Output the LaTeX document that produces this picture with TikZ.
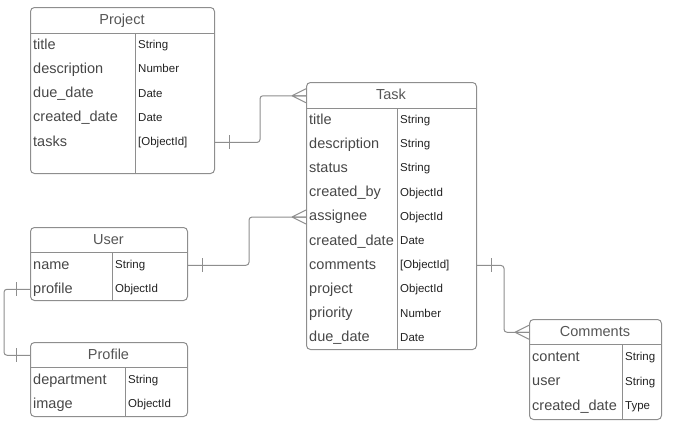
\documentclass[tikz,border=0pt]{standalone}
\usepackage{fontspec}
\setmainfont{Liberation Sans}
\usetikzlibrary{positioning}

\definecolor{erline}{HTML}{8E8E8E}
\definecolor{ertext}{HTML}{474747}
\definecolor{ertype}{HTML}{222222}
\definecolor{erhead}{HTML}{555555}

\tikzset{
  entity/.style={draw=erline, line width=1pt, rounded corners=4pt, anchor=north west, inner sep=0pt},
  headname/.style={anchor=base, inner sep=0pt, text=erhead, text height=10.5pt, text depth=3pt, font=\fontsize{14.5}{16}\selectfont},
  fieldname/.style={anchor=base west, inner sep=0pt, text=ertext, text height=10.5pt, text depth=3pt, font=\fontsize{14.5}{16}\selectfont},
  fieldtype/.style={anchor=base west, inner sep=0pt, text=ertype, font=\fontsize{11.5}{13}\selectfont},
  erlink/.style={draw=erline, line width=1pt, rounded corners=3pt},
  crow/.pic={\draw[erline, line width=1pt] (-14,0) -- (0,0) (-14,0) -- (0,-7) (-14,0) -- (0,7);},
  onebar/.pic={\draw[erline, line width=1pt] (0,-7) -- (0,7);},
}

\begin{document}
\begin{tikzpicture}[x=1pt, y=-1pt]
    \useasboundingbox (0,0) rectangle (673,431);

    % project
    \node[entity, minimum width=184, minimum height=166] (project) at (30,7) {};
    \draw[erline, line width=1pt] (30,33) -- (214,33) (135,33) -- (135,173);
    \node[headname] (project-head) at (122,24.5) {Project};
    \foreach \f/\t [count=\i] in {title/String, description/Number, due\_date/Date, created\_date/Date, tasks/{[ObjectId]}} {
        \node[fieldname] (p-f\i) at (33, 24.7+24.3*\i) {\f};
        \node[fieldtype] (p-t\i) at (138, 24.2+24.3*\i) {\t};
    }

    % task
    \node[entity, minimum width=170, minimum height=267] (task) at (306,82) {};
    \draw[erline, line width=1pt] (306,108) -- (476,108) (397,108) -- (397,349);
    \node[headname] (task-head) at (391,99.5) {Task};
    \foreach \f/\t [count=\i] in {title/String, description/String, status/String, created\_by/ObjectId, assignee/ObjectId,
        created\_date/Date, comments/{[ObjectId]}, project/ObjectId, priority/Number, due\_date/Date} {
        \node[fieldname] (t-f\i) at (309, 99.8+24.2*\i) {\f};
        \node[fieldtype] (t-t\i) at (400, 99.3+24.2*\i) {\t};
    }

    % user
    \node[entity, minimum width=157, minimum height=73] (user) at (30,227) {};
    \draw[erline, line width=1pt] (30,252) -- (187,252) (112,252) -- (112,300);
    \node[headname] (user-head) at (108.5,244) {User};
    \foreach \f/\t [count=\i] in {name/String, profile/ObjectId} {
        \node[fieldname] (u-f\i) at (33, 245+24*\i) {\f};
        \node[fieldtype] (u-t\i) at (115, 244.5+24*\i) {\t};
    }

    % profile
    \node[entity, minimum width=157, minimum height=74] (profile) at (30,342) {};
    \draw[erline, line width=1pt] (30,367) -- (187,367) (125,367) -- (125,416);
    \node[headname] (profile-head) at (108.5,359) {Profile};
    \foreach \f/\t [count=\i] in {department/String, image/ObjectId} {
        \node[fieldname] (pr-f\i) at (33, 360+24*\i) {\f};
        \node[fieldtype] (pr-t\i) at (128, 359.5+24*\i) {\t};
    }

    % comments
    \node[entity, minimum width=132, minimum height=100] (comments) at (529,319) {};
    \draw[erline, line width=1pt] (529,344) -- (661,344) (622,344) -- (622,419);
    \node[headname] (comments-head) at (595,336) {Comments};
    \foreach \f/\t [count=\i] in {content/String, user/String, created\_date/Type} {
        \node[fieldname] (c-f\i) at (532, 336.5+24.5*\i) {\f};
        \node[fieldtype] (c-t\i) at (625, 336+24.5*\i) {\t};
    }

    %%%%%%%%%%%%%%%%%%%%%%%%%%%%%%%%%%%%%%%%%%%%%%%%%%%%%%%%%

    % project tasks -> task
    \draw[erlink] (project.east |- p-f5) -- ++(45,0) |- (task.west |- task-head);
    \path (project.east |- p-f5) ++(14,0) pic {onebar};
    \path (task.west |- task-head) pic {crow};

    % user name -> task assignee
    \draw[erlink] (user.east |- u-f1) -- ++(61,0) |- (task.west |- t-f5);
    \path (user.east |- u-f1) ++(14,0) pic {onebar};
    \path (task.west |- t-f5) pic {crow};

    % user profile -> profile
    \draw[erlink] (user.west |- u-f2) -- ++(-26,0) |- (profile.west |- profile-head);
    \path (user.west |- u-f2) ++(-14,0) pic {onebar};
    \path (profile.west |- profile-head) ++(-14,0) pic {onebar};

    % task comments -> comments
    \draw[erlink] (task.east |- t-f7) -- ++(27,0) |- (comments.west |- comments-head);
    \path (task.east |- t-f7) ++(14,0) pic {onebar};
    \path (comments.west |- comments-head) pic {crow};

\end{tikzpicture}
\end{document}
